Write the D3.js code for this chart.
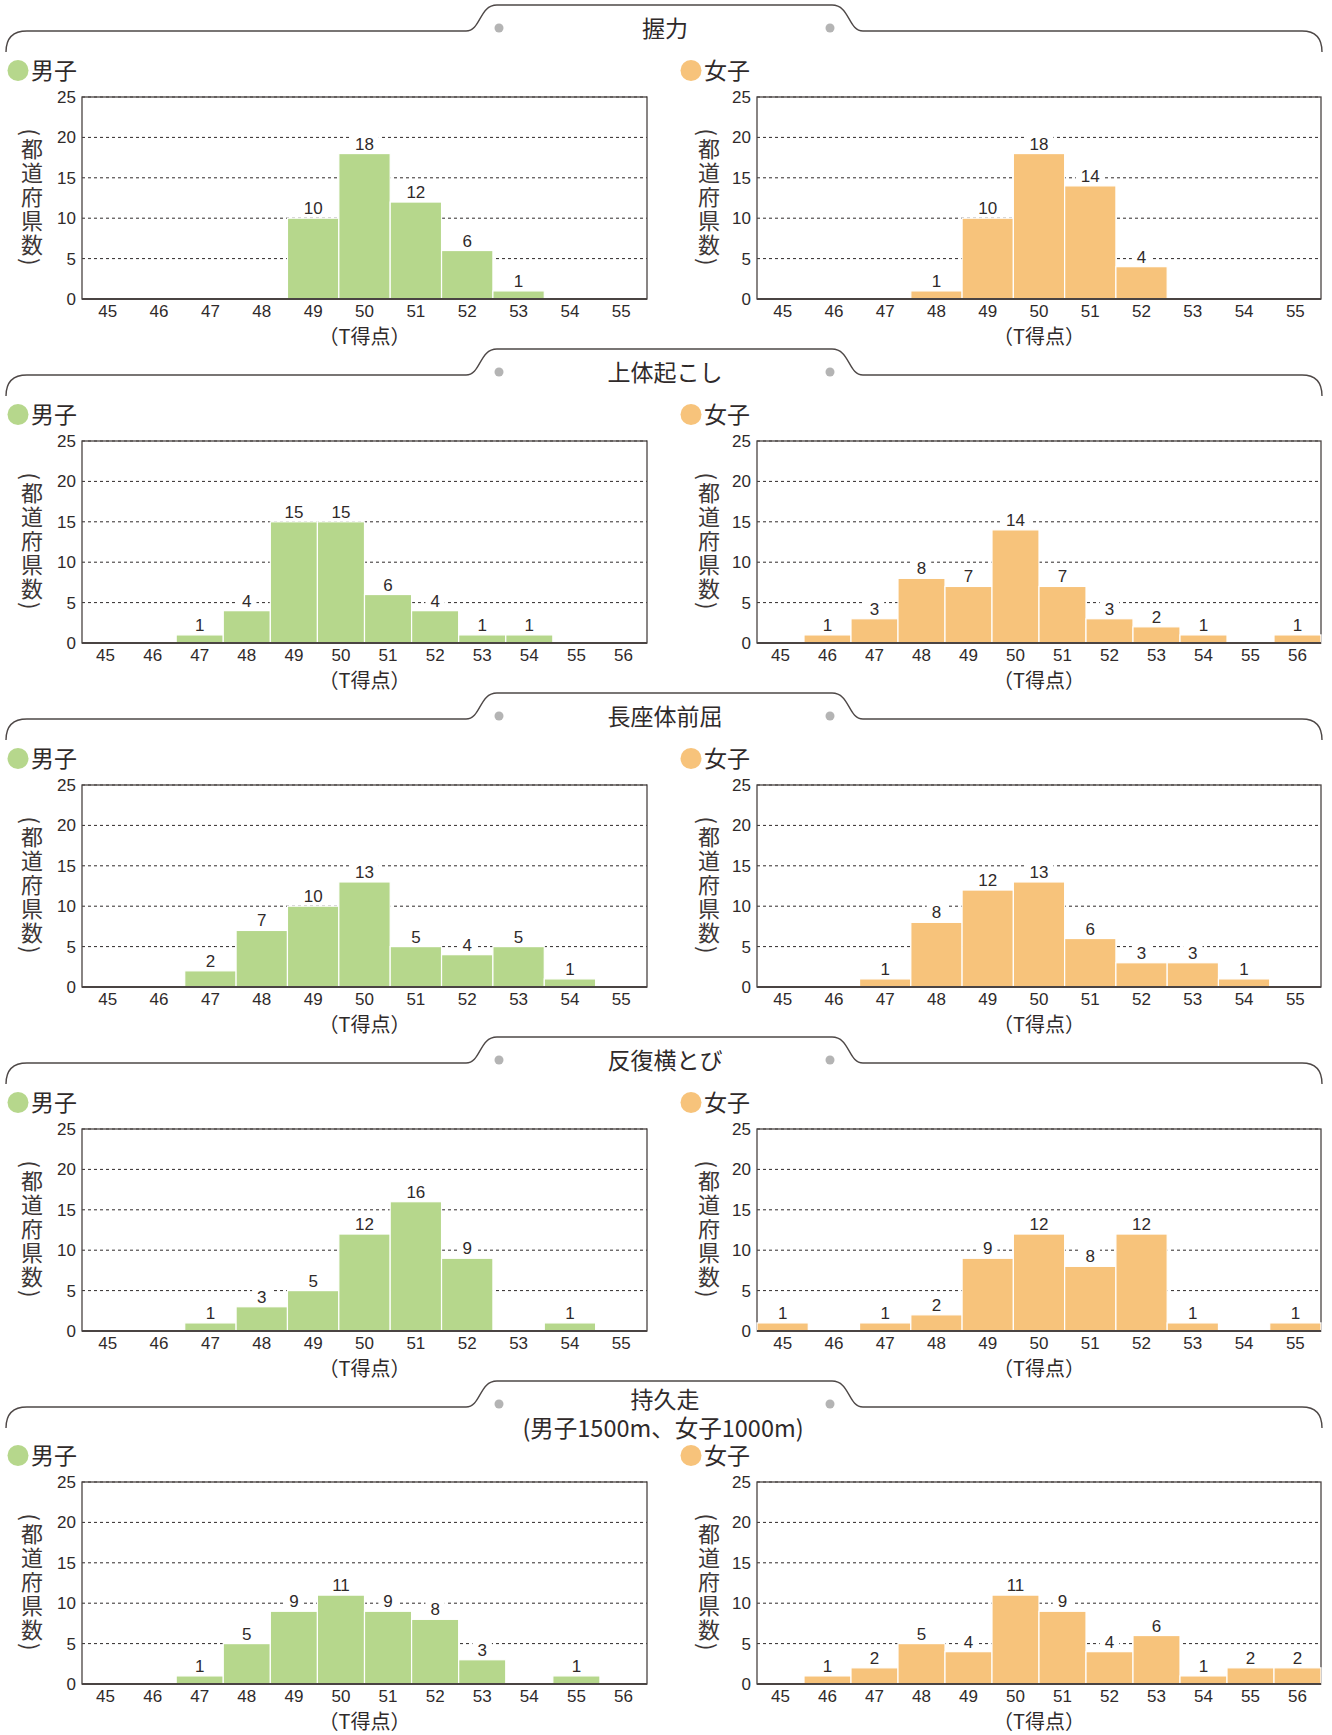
<!DOCTYPE html>
<html lang="ja">
<head>
<meta charset="UTF-8">
<title>T得点分布</title>
<script src="https://d3js.org/d3.v7.min.js"></script>
<style>
  body { margin: 0; background: #fff; }
  svg text { fill: #2f2a2a; font-family: "Liberation Sans", "Noto Sans CJK JP", sans-serif; }
  .jp { font-family: "Noto Sans CJK JP", sans-serif; }
</style>
</head>
<body>
<div id="chart"></div>
<script>
// events (section titles)
const events = ["握力", "上体起こし", "長座体前屈", "反復横とび", "持久走"];
const eventNotes = ["", "", "", "", "(男子1500m、女子1000m)"];

// T score categories
const scores11 = ["45", "46", "47", "48", "49", "50", "51", "52", "53", "54", "55"];
const scores12 = ["45", "46", "47", "48", "49", "50", "51", "52", "53", "54", "55", "56"];
const countTicks = [0, 5, 10, 15, 20, 25];

// number of prefectures per T score
const boysGrip = [0, 0, 0, 0, 10, 18, 12, 6, 1, 0, 0];
const girlsGrip = [0, 0, 0, 1, 10, 18, 14, 4, 0, 0, 0];
const boysSitUp = [0, 0, 1, 4, 15, 15, 6, 4, 1, 1, 0, 0];
const girlsSitUp = [0, 1, 3, 8, 7, 14, 7, 3, 2, 1, 0, 1];
const boysReach = [0, 0, 2, 7, 10, 13, 5, 4, 5, 1, 0];
const girlsReach = [0, 0, 1, 8, 12, 13, 6, 3, 3, 1, 0];
const boysSideStep = [0, 0, 1, 3, 5, 12, 16, 9, 0, 1, 0];
const girlsSideStep = [1, 0, 1, 2, 9, 12, 8, 12, 1, 0, 1];
const boysRun = [0, 0, 1, 5, 9, 11, 9, 8, 3, 0, 1, 0];
const girlsRun = [0, 1, 2, 5, 4, 11, 9, 4, 6, 1, 2, 2];

const sections = [
  { boys: boysGrip, girls: girlsGrip, cats: scores11 },
  { boys: boysSitUp, girls: girlsSitUp, cats: scores12 },
  { boys: boysReach, girls: girlsReach, cats: scores11 },
  { boys: boysSideStep, girls: girlsSideStep, cats: scores11 },
  { boys: boysRun, girls: girlsRun, cats: scores12 }
];

const green = "#b6d78c";
const orange = "#f7c37b";
const ink = "#2f2a2a";

const svg = d3.select("#chart").append("svg")
  .attr("width", 1332)
  .attr("height", 1735);

const pitch = 344;

sections.forEach((sec, i) => {
  const oy = i * pitch;
  const hasNote = eventNotes[i] !== "";
  const shift = hasNote ? 9 : 0;
  const g = svg.append("g").attr("transform", `translate(0,${oy})`);

  // header frame with tab
  g.append("path")
    .attr("d", "M6,52 Q6,31 27,31 L466,31 C481,31 479,5 497,5 L832,5 C850,5 848,31 863,31 L1302,31 Q1322,31 1322,52")
    .attr("fill", "none")
    .attr("stroke", "#4e4847")
    .attr("stroke-width", 1.4);

  g.selectAll("circle.dot")
    .data([499, 830])
    .join("circle")
    .attr("class", "dot")
    .attr("cx", d => d)
    .attr("cy", 28)
    .attr("r", 4.5)
    .attr("fill", "#b4b4b4");

  g.append("text")
    .attr("class", "jp")
    .attr("x", 665)
    .attr("y", hasNote ? 32 : 37)
    .attr("text-anchor", "middle")
    .style("font-size", "23px")
    .text(events[i]);

  if (hasNote) {
    g.append("text")
      .attr("class", "jp")
      .attr("x", 663)
      .attr("y", 61)
      .attr("text-anchor", "middle")
      .style("font-size", "23.5px")
      .text(eventNotes[i]);
  }

  const panels = [
    { data: sec.boys, name: "男子", color: green, left: 82, right: 647, dotX: 18, titleX: 32 },
    { data: sec.girls, name: "女子", color: orange, left: 757, right: 1321, dotX: 691, titleX: 709 }
  ];

  panels.forEach(p => {
    const pg = g.append("g").attr("transform", `translate(0,${shift})`);
    const top = 97, bottom = 299;

    // legend
    pg.append("circle")
      .attr("cx", p.dotX)
      .attr("cy", 70.5)
      .attr("r", 10.5)
      .attr("fill", p.color);
    pg.append("text")
      .attr("class", "jp")
      .attr("x", p.dotX + 13)
      .attr("y", 79)
      .style("font-size", "23px")
      .text(p.name);

    const x = d3.scaleBand()
      .domain(sec.cats)
      .range([p.left, p.right])
      .padding(0);

    const y = d3.scaleLinear()
      .domain([0, 25])
      .range([bottom, top]);

    // grid lines
    pg.selectAll("line.grid")
      .data(countTicks.filter(d => d > 0))
      .join("line")
      .attr("class", "grid")
      .attr("x1", p.left)
      .attr("x2", p.right)
      .attr("y1", d => y(d))
      .attr("y2", d => y(d))
      .attr("stroke", "#2f2a2a")
      .attr("stroke-width", 1)
      .attr("stroke-dasharray", "3,3");

    // frame
    pg.append("rect")
      .attr("x", p.left)
      .attr("y", top)
      .attr("width", p.right - p.left)
      .attr("height", bottom - top)
      .attr("fill", "none")
      .attr("stroke", "#4a4443")
      .attr("stroke-width", 1.3);

    // bars
    pg.selectAll("rect.bar")
      .data(p.data.map((v, k) => ({ cat: sec.cats[k], v: v })).filter(d => d.v > 0))
      .join("rect")
      .attr("class", "bar")
      .attr("x", d => x(d.cat))
      .attr("y", d => y(d.v))
      .attr("width", x.bandwidth())
      .attr("height", d => y(0) - y(d.v))
      .attr("fill", p.color)
      .attr("stroke", "#fff")
      .attr("stroke-width", 1.2);

    // baseline
    pg.append("line")
      .attr("x1", p.left)
      .attr("x2", p.right)
      .attr("y1", bottom)
      .attr("y2", bottom)
      .attr("stroke", "#4a4443")
      .attr("stroke-width", 2);

    // value labels
    const lab = pg.selectAll("g.lab")
      .data(p.data.map((v, k) => ({ cat: sec.cats[k], v: v })).filter(d => d.v > 0))
      .join("g")
      .attr("class", "lab")
      .attr("transform", d => `translate(${x(d.cat) + x.bandwidth() / 2},${y(d.v) - 10})`);
    lab.append("rect")
      .attr("x", d => -(String(d.v).length * 4.7 + 5))
      .attr("y", -8)
      .attr("width", d => String(d.v).length * 9.4 + 10)
      .attr("height", 16)
      .attr("fill", "#fff");
    lab.append("text")
      .attr("text-anchor", "middle")
      .attr("y", 6)
      .style("font-size", "17px")
      .text(d => d.v);

    // y axis
    const yAxis = d3.axisLeft(y).tickValues(countTicks).tickSize(0).tickPadding(6);
    pg.append("g")
      .attr("transform", `translate(${p.left},0)`)
      .call(yAxis)
      .call(a => a.select(".domain").remove())
      .call(a => a.selectAll("text").style("font-size", "17px").attr("fill", ink));

    // x axis
    const xAxis = d3.axisBottom(x).tickSize(0).tickPadding(6);
    pg.append("g")
      .attr("transform", `translate(0,${bottom})`)
      .call(xAxis)
      .call(a => a.select(".domain").remove())
      .call(a => a.selectAll("text").style("font-size", "17px").attr("fill", ink));

    // axis titles
    pg.append("text")
      .attr("class", "jp")
      .attr("x", (p.left + p.right) / 2)
      .attr("y", 344)
      .attr("text-anchor", "middle")
      .style("font-size", "20px")
      .text("（T得点）");

    pg.append("text")
      .attr("class", "jp")
      .attr("x", p.titleX)
      .attr("y", (top + bottom) / 2)
      .attr("text-anchor", "middle")
      .style("writing-mode", "vertical-rl")
      .style("font-size", "22px")
      .style("letter-spacing", "2px")
      .style("fill", "#3d3737")
      .text("(都道府県数)");
  });
});
</script>
</body>
</html>
